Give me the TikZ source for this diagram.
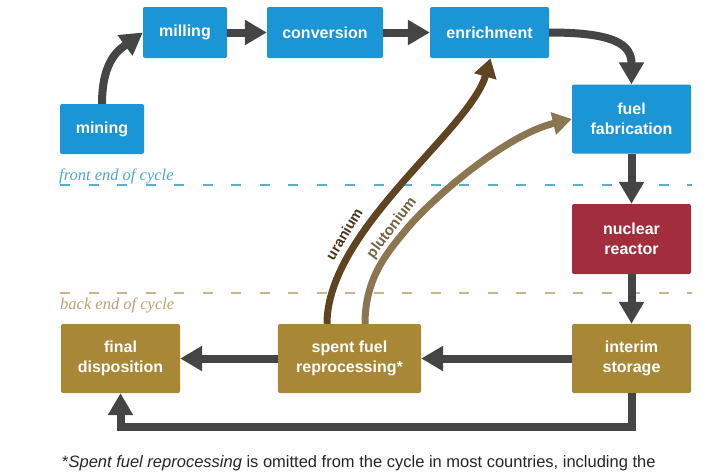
\documentclass[tikz,border=0pt]{standalone}
\usepackage{fontspec}
\setmainfont{Liberation Sans}
\newfontfamily\serifit{Liberation Serif}
\usetikzlibrary{arrows.meta}
\definecolor{nblue}{HTML}{1A95D5}
\definecolor{nred}{HTML}{A22D3C}
\definecolor{ngold}{HTML}{A88736}
\definecolor{agrey}{HTML}{454545}
\definecolor{ubrown}{HTML}{5E4421}
\definecolor{pbrown}{HTML}{8A7651}
\definecolor{ftext}{HTML}{4EA6CF}
\definecolor{fdash}{HTML}{5AAFD0}
\definecolor{btext}{HTML}{B9A273}
\definecolor{bdash}{HTML}{CAB68E}
\begin{document}
\begin{tikzpicture}[x=1pt,y=-1pt,
  box/.style={rectangle, rounded corners=2pt, text=white, align=center,
    font=\bfseries\fontsize{16}{20}\selectfont, inner sep=0pt},
  flow/.style={draw=agrey, line width=8pt, -{Triangle[length=22pt,width=24pt]}},
  recyc/.style={line width=7pt, -{Triangle[length=19pt,width=22pt]}},
  cyclabel/.style={font=\serifit\itshape\fontsize{16.5}{19}\selectfont, anchor=base west, inner sep=0pt},
  curvelabel/.style={font=\bfseries\fontsize{14.5}{17}\selectfont, inner sep=0pt},
  sepline/.style={line width=1.5pt, dash pattern=on 10pt off 18.5pt}
]
\useasboundingbox (0,0) rectangle (712,474);
% boxes
\node[box, fill=nblue, minimum width=84pt, minimum height=50pt] (mining) at (102,129) {mining};
\node[box, fill=nblue, minimum width=84pt, minimum height=51pt] (milling) at (185,32.5) {milling};
\node[box, fill=nblue, minimum width=116pt, minimum height=51pt] (conversion) at (325,32.5) {conversion};
\node[box, fill=nblue, minimum width=119pt, minimum height=51pt] (enrichment) at (489.5,32.5) {enrichment};
\node[box, fill=nblue, minimum width=119pt, minimum height=69pt] (fab) at (631.5,119) {fuel\\fabrication};
\node[box, fill=nred, minimum width=119pt, minimum height=70pt] (reactor) at (631.5,239) {nuclear\\reactor};
\node[box, fill=ngold, minimum width=119pt, minimum height=69pt] (storage) at (631.5,358.5) {interim\\storage};
\node[box, fill=ngold, minimum width=143pt, minimum height=69pt] (reproc) at (349.5,358.5) {spent fuel\\reprocessing*};
\node[box, fill=ngold, minimum width=119pt, minimum height=69pt] (final) at (120.5,358.5) {final\\disposition};
% separators
\draw[sepline, draw=fdash] (60,185) -- (692,185);
\draw[sepline, draw=bdash] (60,293) -- (692,293);
\node[cyclabel, text=ftext] (frontlbl) at (59,180.5) {front end of cycle};
\node[cyclabel, text=btext] (backlbl) at (60,309) {back end of cycle};
% main flow
\draw[flow] (mining.north) .. controls +(0,-45) and +(-22,16) .. (milling.west);
\draw[flow] (milling.east) -- (conversion.west);
\draw[flow] (conversion.east) -- (enrichment.west);
\draw[flow] (enrichment.east) .. controls +(65,0) and +(0,-40) .. (fab.north);
\draw[flow] (fab.south) -- (reactor.north);
\draw[flow] (reactor.south) -- (storage.north);
\draw[flow] (storage.west) -- (reproc.east);
\draw[flow] (reproc.west) -- (final.east);
\draw[flow] (storage.south) -- ++(0,34) -| (final.south);
% recycle
\coordinate (pmid) at (405,231);
\draw[recyc, draw=ubrown] ([xshift=-22.5pt]reproc.north) .. controls (327,230) and (470,130) .. ([xshift=1pt]enrichment.south);
\draw[recyc, draw=pbrown] ([xshift=15.5pt]reproc.north) .. controls (365,280) and (385,255) .. (pmid)
   .. controls (430,200) and (505,135) .. (fab.west);
\node[curvelabel, text=ubrown!80!black, rotate=59] (ulbl) at (344,234) {uranium};
\node[curvelabel, text=pbrown!85!black, rotate=53, font=\bfseries\fontsize{15}{17}\selectfont] (plbl) at (392,228) {plutonium};
% footnote
\node[font=\fontsize{16.5}{19}\selectfont, anchor=base west, inner sep=0pt, text=black!85] (note) at (62,467)
  {*\textit{Spent fuel reprocessing} is omitted from the cycle in most countries, including the};
\end{tikzpicture}
\end{document}
